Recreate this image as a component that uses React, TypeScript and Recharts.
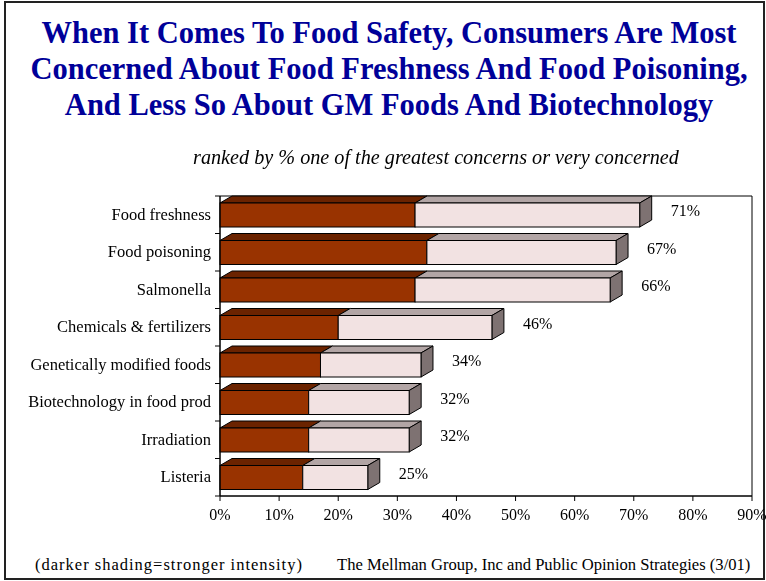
import { BarChart, Bar, XAxis, YAxis, ReferenceArea, LabelList } from 'recharts';

const categories = [
  'Food freshness',
  'Food poisoning',
  'Salmonella',
  'Chemicals & fertilizers',
  'Genetically modified foods',
  'Biotechnology in food prod',
  'Irradiation',
  'Listeria',
];
// darker segment = "one of the greatest concerns"
const strongest = [33, 35, 33, 20, 17, 15, 15, 14];
// full bar = greatest concern or very concerned
const totals = [71, 67, 66, 46, 34, 32, 32, 25];
const xTicks = [0, 10, 20, 30, 40, 50, 60, 70, 80, 90];

const rows = categories.map((name, i) => ({
  name,
  strong: strongest[i],
  rest: totals[i] - strongest[i],
  total: totals[i],
}));

const SERIF = '"Liberation Serif", "Times New Roman", serif';
const DX = 12; // 3d depth
const DY = 7;

function Block({ x, y, width, height, front, top, side }: any) {
  if (width == null || height == null) return null;
  return (
    <g stroke="#000" strokeWidth={1}>
      <polygon
        points={`${x},${y} ${x + DX},${y - DY} ${x + width + DX},${y - DY} ${x + width},${y}`}
        fill={top}
      />
      {side && (
        <polygon
          points={`${x + width},${y} ${x + width + DX},${y - DY} ${x + width + DX},${y + height - DY} ${x + width},${y + height}`}
          fill={side}
        />
      )}
      <rect x={x} y={y} width={width} height={height} fill={front} />
    </g>
  );
}

function CatTick({ x, y, payload }: any) {
  const half = 300 / categories.length / 2;
  return (
    <g>
      <text x={x - 7} y={y} dy={5} textAnchor="end" fontSize={16.5} fontFamily={SERIF} fill="#000">
        {payload.value}
      </text>
      <line x1={215} x2={220} y1={y + half} y2={y + half} stroke="#000" />
      {payload.index === 0 && <line x1={215} x2={220} y1={y - half} y2={y - half} stroke="#000" />}
    </g>
  );
}

function TotalLabel({ x, y, width, height, value }: any) {
  return (
    <text
      x={x + width + 31}
      y={y + height / 2 - 4}
      dy={5}
      fontSize={16}
      fontFamily={SERIF}
      fill="#000"
    >
      {value}%
    </text>
  );
}

export default function App() {
  return (
    <div
      style={{
        position: 'fixed',
        left: 0,
        top: 0,
        width: 766,
        height: 581,
        background: '#fff',
        fontFamily: SERIF,
      }}
    >
      <div
        style={{
          position: 'absolute',
          left: 4,
          top: 1,
          width: 757,
          height: 575,
          border: '2px solid #222',
        }}
      />
      <div
        style={{
          position: 'absolute',
          left: 0,
          width: 778,
          top: 15,
          textAlign: 'center',
          color: '#000099',
          fontWeight: 'bold',
          fontSize: 30.5,
          lineHeight: '36px',
        }}
      >
        When It Comes To Food Safety, Consumers Are Most
        <br />
        Concerned About Food Freshness And Food Poisoning,
        <br />
        And Less So About GM Foods And Biotechnology
      </div>
      <div
        style={{
          position: 'absolute',
          left: 0,
          width: 872,
          top: 145,
          textAlign: 'center',
          fontStyle: 'italic',
          fontSize: 20.2,
          lineHeight: '24px',
        }}
      >
        ranked by % one of the greatest concerns or very concerned
      </div>
      <div
        style={{ position: 'absolute', left: 35, top: 555, fontSize: 16.5, letterSpacing: 1, lineHeight: '20px' }}
      >
        (darker shading=stronger intensity)
      </div>
      <div style={{ position: 'absolute', left: 337, top: 555, fontSize: 16.6, lineHeight: '20px' }}>
        The Mellman Group, Inc and Public Opinion Strategies (3/01)
      </div>
      <div style={{ position: 'absolute', left: 0, top: 0 }}>
        <BarChart
          width={766}
          height={581}
          data={rows}
          layout="vertical"
          margin={{ top: 196, right: 14, bottom: 55, left: 0 }}
          barSize={24}
        >
          <XAxis
            type="number"
            domain={[0, 90]}
            ticks={xTicks}
            interval={0}
            tickFormatter={(v) => `${v}%`}
            axisLine={{ stroke: '#000' }}
            tickLine={{ stroke: '#000' }}
            tickSize={5}
            tick={{ fill: '#000', fontSize: 16, fontFamily: SERIF }}
            tickMargin={8}
            height={30}
          />
          <YAxis
            type="category"
            dataKey="name"
            width={220}
            axisLine={{ stroke: '#000' }}
            tickLine={false}
            tickSize={0}
            tick={<CatTick />}
            interval={0}
          />
          <ReferenceArea x1={0} x2={90} fill="none" stroke="#000" strokeWidth={1} ifOverflow="visible" />
          <Bar
            dataKey="strong"
            stackId="a"
            isAnimationActive={false}
            shape={(p: any) => <Block {...p} front="#993300" top="#6b2300" />}
          />
          <Bar
            dataKey="rest"
            stackId="a"
            isAnimationActive={false}
            shape={(p: any) => <Block {...p} front="#f2e2e2" top="#b2a5a5" side="#7e7272" />}
          >
            <LabelList dataKey="total" content={<TotalLabel />} />
          </Bar>
        </BarChart>
      </div>
    </div>
  );
}
